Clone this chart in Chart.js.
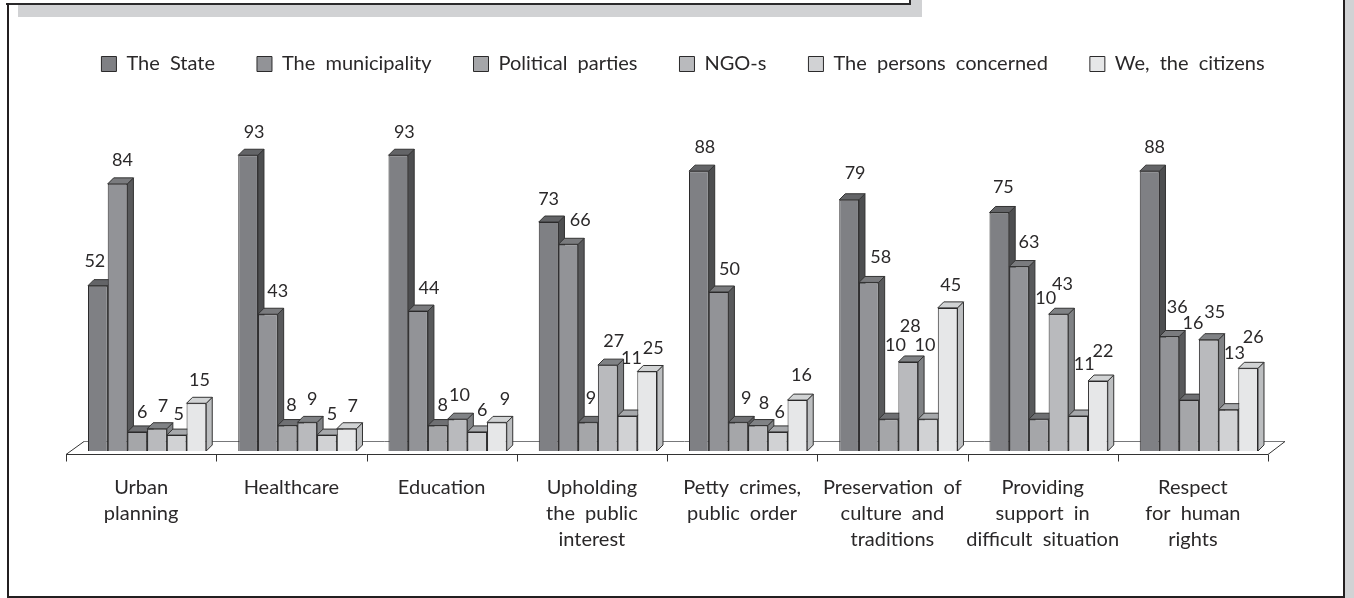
<!DOCTYPE html>
<html>
<head>
<meta charset="utf-8">
<script src="https://cdn.jsdelivr.net/npm/chart.js@4/dist/chart.umd.min.js"></script>
<style>
    html, body { margin: 0; padding: 0; background: #fff; overflow: hidden; }
    #page { position: relative; width: 1354px; height: 598px; }
    #page div { position: absolute; }
    canvas { position: absolute; left: 0; top: 0; }
</style>
</head>
<body>
<div id="page">
    <!-- frame pieces, grey shadow first -->
    <div style="left:18px;top:5px;width:904px;height:12px;background:#d1d2d4"></div>
    <div style="left:911px;top:0;width:11px;height:5px;background:#d1d2d4"></div>
    <div style="left:1345px;top:0;width:9px;height:598px;background:#d1d2d4"></div>
    <div style="left:6px;top:3px;width:905px;height:2px;background:#2b2a2b"></div>
    <div style="left:909px;top:0;width:2px;height:5px;background:#2b2a2b"></div>
    <div style="left:7px;top:3px;width:2px;height:595px;background:#231f20"></div>
    <div style="left:1343px;top:0;width:2px;height:598px;background:#231f20"></div>
    <div style="left:7px;top:596px;width:1338px;height:2px;background:#231f20"></div>
    <canvas id="chart" width="1354" height="598"></canvas>
</div>
<script>
const categories = [
    ['Urban', 'planning'],
    'Healthcare',
    'Education',
    ['Upholding', 'the public', 'interest'],
    ['Petty crimes,', 'public order'],
    ['Preservation of', 'culture and', 'traditions'],
    ['Providing', 'support in', 'difficult situation'],
    ['Respect', 'for human', 'rights']
];
const seriesNames = ['The State', 'The municipality', 'Political parties', 'NGO-s', 'The persons concerned', 'We, the citizens'];
// bar heights as drawn in the picture, a few of them differ from the number printed above the bar
const stateValues = [52, 93, 93, 72, 88, 79, 75, 88];
const municipalityValues = [84, 43, 44, 65, 50, 53, 58, 36];
const partiesValues = [6, 8, 8, 9, 9, 10, 10, 16];
const ngoValues = [7, 9, 10, 27, 8, 28, 43, 35];
const concernedValues = [5, 5, 6, 11, 6, 10, 11, 13];
const citizensValues = [15, 7, 9, 25, 16, 45, 22, 26];
const stateLabels = [52, 93, 93, 73, 88, 79, 75, 88];
const municipalityLabels = [84, 43, 44, 66, 50, 58, 63, 36];

const seriesValues = [stateValues, municipalityValues, partiesValues, ngoValues, concernedValues, citizensValues];
const seriesLabels = [stateLabels, municipalityLabels, partiesValues, ngoValues, concernedValues, citizensValues];

const frontColors = ['#7f8084', '#929397', '#a5a6a9', '#b9babd', '#d1d2d4', '#e6e7e8'];
const sideColors = ['#4d4e50', '#58595b', '#5c5d5f', '#808285', '#8f9093', '#bcbec0'];
const topColors = ['#636467', '#7a7b7e', '#6f7073', '#808285', '#a7a9ac', '#d1d3d4'];

// hand placed labels in the original, offset from the bar's top middle
const labelNudge = [
    [[-3, -24], [5, -24], [5, -20], [6, -23], [2, -21], [3, -23]],
    [[6, -23], [10, -23], [4, -20], [5, -23], [5, -21], [6, -23]],
    [[6, -23], [11, -23], [5, -20], [2, -24], [5, -22], [8, -23]],
    [[0, -23], [12, -24], [3, -24], [6, -24], [4, -58], [6, -23]],
    [[6, -24], [11, -23], [8, -24], [6, -22], [2, -20], [4, -25]],
    [[6, -27], [12, -25], [7, -74], [2, -36], [-3, -74], [3, -23]],
    [[4, -25], [10, -24], [7, -121], [4, -30], [6, -52], [5, -30]],
    [[5, -24], [8, -29], [4, -77], [6, -28], [6, -56], [5, -31]]
];

const depth = 6;
const fontFamily = 'Lato, sans-serif';
const inkColor = '#2a2829';

function setSpacing(chart) {
    chart.ctx.wordSpacing = '5px';
}

const bars3d = {
    id: 'bars3d',
    beforeInit: setSpacing,
    beforeUpdate: setSpacing,
    beforeLayout: setSpacing,
    afterLayout(chart) {
        // legend is centred a bit right of the plot
        chart.legend.left += 10;
        chart.legend.right += 10;
    },
    beforeDatasetsDraw(chart) {
        const ctx = chart.ctx;
        const xs = chart.scales.x;
        const bottom = chart.chartArea.bottom;
        const step = xs.width / categories.length;
        const left = xs.left - depth;
        const right = xs.right - depth;
        const front = bottom + 3.5;
        const back = bottom - 9.5;

        ctx.save();
        ctx.lineWidth = 1;
        ctx.strokeStyle = '#77787a';
        ctx.beginPath();
        ctx.moveTo(left + 18, back);
        ctx.lineTo(right + 17, back);
        ctx.stroke();

        ctx.strokeStyle = '#333';
        ctx.beginPath();
        ctx.moveTo(left + 18, back);
        ctx.lineTo(left, front);
        ctx.lineTo(right, front);
        ctx.lineTo(right + 17, back);
        for (let i = 0; i <= categories.length; i++) {
            const x = Math.round(left + step * i) + 0.5;
            ctx.moveTo(x, front);
            ctx.lineTo(x, front + 7);
        }
        ctx.stroke();

        // side and top faces, left to right, fronts get painted over them
        ctx.lineWidth = 1;
        ctx.strokeStyle = '#333';
        for (let c = 0; c < categories.length; c++) {
            seriesValues.forEach((values, s) => {
                const bar = chart.getDatasetMeta(s).data[c];
                const x0 = bar.x - bar.width / 2;
                const x1 = bar.x + bar.width / 2;
                ctx.fillStyle = sideColors[s];
                ctx.beginPath();
                ctx.moveTo(x1, bar.y);
                ctx.lineTo(x1 + depth, bar.y - depth);
                ctx.lineTo(x1 + depth, bottom - depth);
                ctx.lineTo(x1, bottom);
                ctx.closePath();
                ctx.fill();
                ctx.stroke();
                ctx.fillStyle = topColors[s];
                ctx.beginPath();
                ctx.moveTo(x0, bar.y);
                ctx.lineTo(x0 + depth, bar.y - depth);
                ctx.lineTo(x1 + depth, bar.y - depth);
                ctx.lineTo(x1, bar.y);
                ctx.closePath();
                ctx.fill();
                ctx.stroke();
            });
        }
        ctx.restore();
    },
    afterDatasetsDraw(chart) {
        const ctx = chart.ctx;
        ctx.save();
        ctx.font = '18px ' + fontFamily;
        ctx.fillStyle = inkColor;
        ctx.textAlign = 'center';
        ctx.textBaseline = 'middle';
        seriesLabels.forEach((labels, s) => {
            chart.getDatasetMeta(s).data.forEach((bar, c) => {
                const nudge = labelNudge[c][s];
                ctx.fillText(labels[c], bar.x + nudge[0], bar.y + nudge[1]);
            });
        });
        ctx.restore();
    }
};

// empty axes on both sides hold the plot in, so the legend still gets the full width
const spacerAxis = {
    grid: { display: false },
    border: { display: false },
    ticks: { display: false },
    afterFit(scale) { scale.width = 60; }
};

new Chart(document.getElementById('chart'), {
    type: 'bar',
    data: {
        labels: categories,
        datasets: seriesNames.map((name, s) => ({
            label: name,
            data: seriesValues[s],
            backgroundColor: frontColors[s],
            borderColor: '#2b2a2b',
            borderWidth: 1,
            categoryPercentage: 0.787,
            barPercentage: 1
        }))
    },
    options: {
        responsive: false,
        animation: false,
        layout: { padding: { left: 12, right: 20, top: 12, bottom: 0 } },
        plugins: {
            tooltip: { enabled: false },
            legend: {
                position: 'top',
                labels: {
                    boxWidth: 15,
                    boxHeight: 15,
                    padding: 42,
                    color: inkColor,
                    font: { family: fontFamily, size: 20 }
                }
            }
        },
        scales: {
            x: {
                grid: { display: false, drawTicks: false },
                border: { display: false },
                ticks: {
                    color: inkColor,
                    font: { family: fontFamily, size: 20, lineHeight: 1.3 },
                    padding: 24,
                    labelOffset: -6,
                    maxRotation: 0,
                    autoSkip: false
                },
                afterFit(scale) { scale.height = 147; }
            },
            y: { ...spacerAxis, position: 'left', min: 0, max: 115.4 },
            yRight: { ...spacerAxis, position: 'right', min: 0, max: 1 }
        }
    },
    plugins: [bars3d]
});
</script>
</body>
</html>
